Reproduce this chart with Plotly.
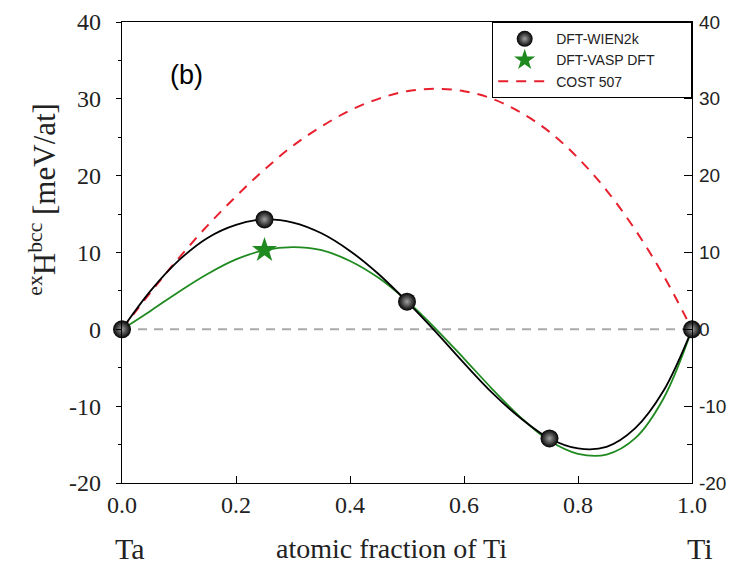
import plotly.graph_objects as go

# Data
x_grid = [0.0, 0.05, 0.10, 0.15, 0.20, 0.25, 0.30, 0.35, 0.40, 0.45, 0.50,
          0.55, 0.60, 0.65, 0.70, 0.75, 0.80, 0.85, 0.90, 0.95, 1.0]
wien_curve = [0.0, 5.0, 9.0, 11.9, 13.6, 14.3, 13.9, 12.5, 10.2, 7.2, 3.6,
              -0.3, -4.4, -8.3, -11.6, -14.2, -15.5, -15.3, -12.9, -8.0, 0.0]
vasp_curve = [0.0, 2.4, 4.9, 7.2, 9.1, 10.3, 10.7, 10.3, 8.9, 6.7, 3.7,
              0.1, -3.8, -7.8, -11.5, -14.5, -16.2, -16.3, -14.2, -9.0, 0.0]
cost_curve = [0.0, 4.8, 9.3, 13.5, 17.3, 20.8, 23.9, 26.4, 28.5, 30.0, 31.0,
              31.3, 31.0, 30.0, 28.2, 25.7, 22.3, 18.1, 13.0, 7.0, 0.0]

wien_x = [0.0, 0.25, 0.5, 0.75, 1.0]
wien_y = [0.0, 14.3, 3.6, -14.2, 0.0]
vasp_x = [0.25]
vasp_y = [10.3]

y_ticks = [-20, -10, 0, 10, 20, 30, 40]
y_ticktext = ["-20", "-10", "0", "10", "20", "30", "40"]
x_ticks = [0.0, 0.2, 0.4, 0.6, 0.8, 1.0]
x_ticktext = ["0.0", "0.2", "0.4", "0.6", "0.8", "1.0"]

GREEN = "#1f8a1f"
RED = "#e8202e"
PAD = "&nbsp;" * 8

fig = go.Figure()

# zero reference line
fig.add_trace(go.Scatter(x=[0, 1], y=[0, 0], mode="lines",
                         line=dict(color="#aaaaaa", width=2, dash="9px,7px"),
                         showlegend=False, hoverinfo="skip"))

fig.add_trace(go.Scatter(x=x_grid, y=cost_curve, mode="lines",
                         line=dict(color=RED, width=2, dash="10px,8px", shape="spline"),
                         name="COST 507", legendrank=3))

fig.add_trace(go.Scatter(x=x_grid, y=vasp_curve, mode="lines",
                         line=dict(color=GREEN, width=1.8, shape="spline"),
                         showlegend=False))
fig.add_trace(go.Scatter(x=x_grid, y=wien_curve, mode="lines",
                         line=dict(color="black", width=1.8, shape="spline"),
                         showlegend=False))

fig.add_trace(go.Scatter(x=wien_x, y=wien_y, mode="markers",
                         marker=dict(symbol="circle", size=18, color="black",
                                     gradient=dict(type="radial", color="#a0a0a0"),
                                     line=dict(width=0)),
                         name="DFT-WIEN2k", legendrank=1, cliponaxis=False))
fig.add_trace(go.Scatter(x=vasp_x, y=vasp_y, mode="markers",
                         marker=dict(symbol="star", size=19, color=GREEN,
                                     line=dict(width=0)),
                         name="DFT-VASP DFT" + PAD, legendrank=2, cliponaxis=False))

# invisible trace to drive right axis
fig.add_trace(go.Scatter(x=[0], y=[0], yaxis="y2", mode="markers",
                         marker=dict(opacity=0), showlegend=False, hoverinfo="skip"))

serif = "Liberation Serif"
sans = "Liberation Sans"
TXT = "#222222"

# page body adds an 8px offset; figure size compensates for it
fig.update_layout(
    width=730, height=563,
    margin=dict(l=114, r=46, t=14, b=88, autoexpand=False),
    paper_bgcolor="white", plot_bgcolor="white",
    showlegend=True,
    legend=dict(x=1, xanchor="right", y=1, yanchor="top",
                bordercolor="black", borderwidth=1.2, bgcolor="white",
                font=dict(family=sans, size=14, color=TXT),
                traceorder="normal", itemwidth=53, tracegroupgap=0),
    xaxis=dict(range=[0, 1], tickvals=x_ticks, ticktext=x_ticktext,
               ticks="inside", ticklen=7, tickcolor="black", tickwidth=1,
               showline=True, linecolor="black", linewidth=1.2, mirror=True,
               showgrid=False, zeroline=False, automargin=False,
               tickfont=dict(family=serif, size=24, color=TXT)),
    yaxis=dict(range=[-20, 40], tickvals=y_ticks, ticktext=y_ticktext,
               ticks="outside", ticklen=5, tickcolor="black",
               minor=dict(ticks="outside", ticklen=3, dtick=5, tickcolor="black"),
               showline=True, linecolor="black", linewidth=1.2,
               showgrid=False, zeroline=False, ticklabelstandoff=10, automargin=False,
               tickfont=dict(family=serif, size=24, color=TXT)),
    yaxis2=dict(range=[-20, 40], tickvals=y_ticks, ticktext=y_ticktext,
                overlaying="y", side="right",
                ticks="inside", ticklen=8, tickcolor="black",
                minor=dict(ticks="inside", ticklen=5, dtick=5, tickcolor="black"),
                showline=True, linecolor="black", linewidth=1.2,
                showgrid=False, zeroline=False, ticklabelstandoff=2, automargin=False,
                tickfont=dict(family=sans, size=19, color=TXT)),
)

fig.add_annotation(text="<sup>ex</sup>H<sup>bcc</sup> [meV/at]", textangle=-90,
                   xref="paper", yref="paper", x=-0.14, y=0.615,
                   showarrow=False, xanchor="center", yanchor="middle",
                   font=dict(family=serif, size=31, color=TXT))
fig.add_annotation(text="(b)", xref="paper", yref="paper", x=0.08, y=0.885,
                   showarrow=False, xanchor="left", yanchor="middle",
                   font=dict(family=sans, size=27, color="black"))
fig.add_annotation(text="Ta", xref="paper", yref="paper", x=0.014, y=-0.141,
                   showarrow=False, xanchor="center", yanchor="middle",
                   font=dict(family=serif, size=30, color=TXT))
fig.add_annotation(text="atomic fraction of Ti", xref="paper", yref="paper", x=0.472, y=-0.141,
                   showarrow=False, xanchor="center", yanchor="middle",
                   font=dict(family=serif, size=28, color=TXT))
fig.add_annotation(text="Ti", xref="paper", yref="paper", x=1.014, y=-0.141,
                   showarrow=False, xanchor="center", yanchor="middle",
                   font=dict(family=serif, size=30, color=TXT))

fig.write_html("out.html")
